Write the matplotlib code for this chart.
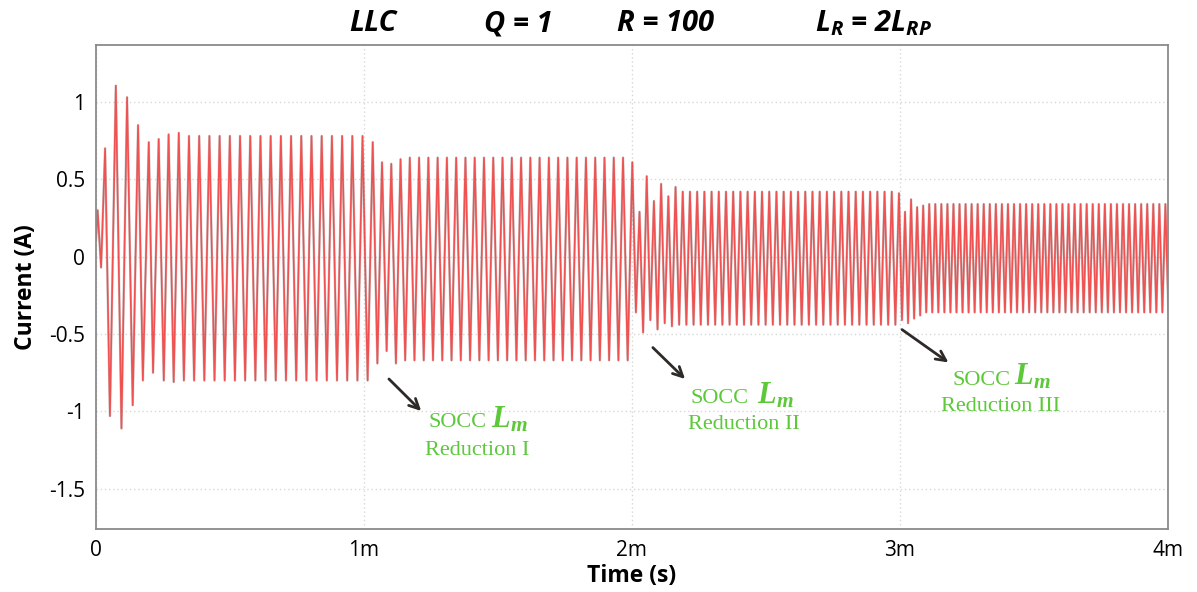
import matplotlib
matplotlib.use("Agg")
import matplotlib.pyplot as plt
import numpy as np

# start-up transient: times of the first extremes (ms) and their currents (A)
startup_t = [0.0, 0.006, 0.019, 0.034, 0.052, 0.074, 0.095, 0.116, 0.137,
             0.157, 0.175, 0.197, 0.213, 0.234, 0.253, 0.271, 0.290, 0.309]
startup_i = [0.11, 0.30, -0.07, 0.70, -1.03, 1.105, -1.11, 1.03, -0.96,
             0.85, -0.80, 0.74, -0.75, 0.76, -0.80, 0.79, -0.81, 0.80]

# operating segments (one per L_m step)
seg_end = [1.033, 2.004, 2.990, 4.05]          # ms
seg_period = [0.0381, 0.0346, 0.0269, 0.0226]  # ms
seg_peak = [0.78, 0.64, 0.42, 0.34]            # A
seg_trough = [-0.80, -0.67, -0.44, -0.36]      # A
# extremes right after each step, alternating trough/peak
seg_transient = [
    [],
    [-0.69, 0.61, -0.61, 0.60, -0.69, 0.63],
    [-0.36, 0.29, -0.49, 0.52, -0.41, 0.36, -0.47, 0.47, -0.43, 0.39, -0.45, 0.45],
    [-0.41, 0.29, -0.43, 0.37, -0.40, 0.32, -0.38, 0.33],
]
last_peak = [0.80, 0.74, 0.61, 0.41]

y_ticks = [1, 0.5, 0, -0.5, -1, -1.5]
y_tick_labels = ["1", "0.5", "0", "-0.5", "-1", "-1.5"]
x_ticks = [0, 1, 2, 3, 4]
x_tick_labels = ["0", "1m", "2m", "3m", "4m"]

# build the list of extremes segment by segment
ext_t = list(startup_t)
ext_i = list(startup_i)
for k in range(len(seg_end)):
    half = seg_period[k] / 2
    vals = list(seg_transient[k])
    t = ext_t[-1]
    n = 0
    while True:
        if n < len(vals):
            v = vals[n]
        else:
            v = seg_trough[k] if ext_i[-1] > 0 else seg_peak[k]
        nxt = t + half
        # stop the segment on its last peak
        if nxt > seg_end[k] + 0.005 and ext_i[-1] > 0:
            break
        if k + 1 == len(seg_end) and nxt > seg_end[k]:
            break
        ext_t.append(nxt)
        ext_i.append(v)
        t = nxt
        n += 1
    if k + 1 < len(seg_end):
        ext_i[-1] = last_peak[k + 1]

ext_t = np.array(ext_t)
ext_i = np.array(ext_i)

plt.rcParams["font.family"] = ["Open Sans", "DejaVu Sans"]
plt.rcParams["mathtext.fontset"] = "custom"
plt.rcParams["mathtext.it"] = "Open Sans:italic:bold"
plt.rcParams["mathtext.rm"] = "Open Sans:italic:bold"
plt.rcParams["mathtext.bf"] = "Liberation Serif:italic:bold"

fig = plt.figure(figsize=(11.97, 5.92), dpi=100)
ax = fig.add_axes([96 / 1197, 1 - 529 / 592, (1167.7 - 96) / 1197, (529 - 45) / 592])

ax.plot(ext_t, ext_i, color="#555555", lw=1.8, alpha=0.3)
ax.plot(ext_t, ext_i, color="#ff2424", lw=1.2, alpha=0.72)

ax.set_xlim(0, 4)
ax.set_ylim(-1.76, 1.368)
ax.set_xticks(x_ticks)
ax.set_xticklabels(x_tick_labels)
ax.set_yticks(y_ticks)
ax.set_yticklabels(y_tick_labels)
ax.tick_params(length=0, labelsize=15, colors="black")
ax.tick_params(axis="x", pad=8)
ax.tick_params(axis="y", pad=8)
ax.grid(True, color="#d8d8d8", lw=1, ls=(0, (1, 2)))
for s in ax.spines.values():
    s.set_color("#8a8a8a")
    s.set_linewidth(1.3)

ax.set_xlabel("Time (s)", fontsize=16.5, fontweight="bold", labelpad=2)
ax.set_ylabel("Current (A)", fontsize=16.5, fontweight="bold", labelpad=8)

# title line
title_kw = dict(fontsize=21, fontweight="bold", style="italic", va="baseline")
fig.text(349 / 1197, 1 - 31 / 592, "LLC", ha="left", **title_kw)
fig.text(484 / 1197, 1 - 31 / 592, "Q = 1", ha="left", **title_kw)
fig.text(617 / 1197, 1 - 31 / 592, "R = 100", ha="left", **title_kw)
fig.text(815 / 1197, 1 - 31 / 592, r"$L_R$ = 2$L_{RP}$", ha="left",
         math_fontfamily="custom", **title_kw)

# SOCC annotations
green = "#5cc83a"
notes = [
    # arrow tail, arrow tip, SOCC right edge, L_m left edge, baseline, label centre, label baseline, label
    ((1.086, -0.778), (1.221, -1.010), 1.4595, 1.475, -1.101, 1.422, -1.282, "Reduction I"),
    ((2.071, -0.575), (2.206, -0.803), 2.435, 2.466, -0.948, 2.419, -1.116, "Reduction II"),
    ((3.000, -0.461), (3.190, -0.694), 3.412, 3.425, -0.829, 3.378, -0.997, "Reduction III"),
]
for tail, tip, sx, lx, by, rx, ry, lab in notes:
    ax.annotate("", xy=tip, xytext=tail,
                arrowprops=dict(arrowstyle="->,head_length=0.7,head_width=0.35",
                                lw=2, color="#2e2a28"))
    ax.text(sx, by, "SOCC", color=green, fontsize=16, family="Liberation Serif",
            ha="right", va="baseline")
    ax.text(lx, by, r"$\mathbf{L_m}$", color=green, fontsize=22, ha="left", va="baseline",
            math_fontfamily="custom")
    ax.text(rx, ry, lab, color=green, fontsize=16, family="Liberation Serif",
            ha="center", va="baseline")

fig.savefig("out.png", dpi=100, facecolor="white")
